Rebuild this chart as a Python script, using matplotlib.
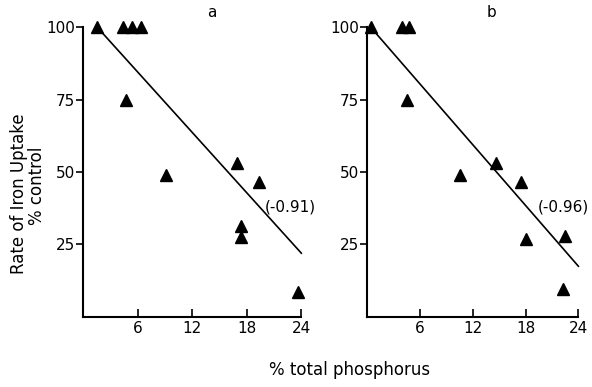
import numpy as np
from matplotlib import pyplot as plt

# panel a
a_x = [1.5, 4.3, 5.3, 6.3, 4.7, 9.1, 16.9, 19.3, 17.3, 17.3, 23.6]
a_y = [100, 100, 100, 100, 75, 49, 53, 46.5, 31.5, 27.5, 8.5]
a_fit_x = [1.5, 24]
a_fit_y = [100, 22]
a_r = "(-0.91)"

# panel b
b_x = [0.4, 4.0, 4.8, 4.5, 10.6, 14.7, 17.5, 18.1, 22.5, 22.3]
b_y = [100, 100, 100, 75, 49, 53, 46.5, 27, 28, 9.5]
b_fit_x = [0.4, 24]
b_fit_y = [100, 17.5]
b_r = "(-0.96)"

x_ticks = [6, 12, 18, 24]
y_ticks = [25, 50, 75, 100]

fig = plt.figure(figsize=(5.92, 3.87), dpi=100)
ax_a = fig.add_axes([0.141, 0.181, 0.368, 0.749])
ax_b = fig.add_axes([0.620, 0.181, 0.357, 0.749])

panels = [
    (ax_a, a_x, a_y, a_fit_x, a_fit_y, a_r, (22.8, 38), "a"),
    (ax_b, b_x, b_y, b_fit_x, b_fit_y, b_r, (22.3, 38), "b"),
]

for ax, px, py, fx, fy, r, rpos, lab in panels:
    ax.plot(fx, fy, color="black", lw=1.2, clip_on=False)
    ax.plot(px, py, "^", color="black", ms=8, clip_on=False)
    ax.text(rpos[0], rpos[1], r, fontsize=11, ha="center", va="center")
    ax.text(0.59, 1.05, lab, transform=ax.transAxes, fontsize=11,
            ha="center", va="center")
    ax.set_xlim(0, 24)
    ax.set_ylim(0, 100)
    ax.set_xticks(x_ticks)
    ax.set_yticks(y_ticks)
    ax.tick_params(axis="x", direction="in", length=6, width=1.2,
                   labelsize=11, pad=3)
    ax.tick_params(axis="y", direction="out", length=5, width=1.2,
                   labelsize=11, pad=1)
    ax.spines["top"].set_visible(False)
    ax.spines["right"].set_visible(False)
    ax.spines["left"].set_linewidth(1.5)
    ax.spines["bottom"].set_linewidth(1.5)

fig.text(0.032, 0.50, "Rate of Iron Uptake", rotation=90, fontsize=12,
         ha="center", va="center")
fig.text(0.062, 0.52, "% control", rotation=90, fontsize=12,
         ha="center", va="center")
fig.text(0.59, 0.045, "% total phosphorus", fontsize=12,
         ha="center", va="center")

fig.savefig("out.png", dpi=100)
